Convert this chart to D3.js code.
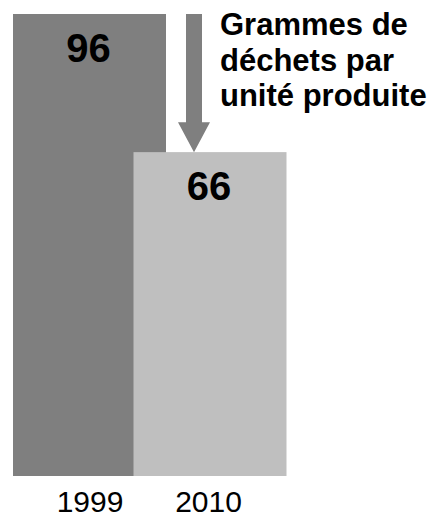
<!DOCTYPE html>
<html>
<head>
<meta charset="utf-8">
<script src="https://cdn.jsdelivr.net/npm/d3@7"></script>
<style>
  html, body { margin: 0; padding: 0; background: #fff; }
  svg { display: block; }
  text { font-family: "Liberation Sans", Arial, sans-serif; }
</style>
</head>
<body>
<svg id="chart" width="437" height="517"></svg>
<script>
const years = ["1999", "2010"];
const values = [96, 66];
const barColors = ["#7f7f7f", "#bfbfbf"];
const titleLines = ["Grammes de", "déchets par", "unité produite"];

const svg = d3.select("#chart");
const plotBottom = 476;

const x = d3.scalePoint().domain(years).range([89.5, 210]);
const barW = 153;
const y = d3.scaleLinear().domain([0, 96]).range([456, 14]);

// bars (second overlaps first)
svg.selectAll("rect.bar")
  .data(years)
  .join("rect")
  .attr("class", "bar")
  .attr("x", d => x(d) - barW / 2)
  .attr("width", barW)
  .attr("y", (d, i) => y(values[i]))
  .attr("height", (d, i) => plotBottom - y(values[i]))
  .attr("fill", (d, i) => barColors[i]);

// value labels
svg.selectAll("text.val")
  .data(years)
  .join("text")
  .attr("class", "val")
  .attr("x", d => x(d) - 1)
  .attr("y", (d, i) => y(values[i]) + 48)
  .attr("text-anchor", "middle")
  .attr("font-size", 40)
  .attr("font-weight", "bold")
  .attr("fill", "#000")
  .text((d, i) => values[i]);

// year labels (axis)
const axis = d3.axisBottom(x).tickSize(0).tickPadding(0);
const gx = svg.append("g").attr("transform", `translate(0, ${plotBottom})`).call(axis);
gx.select(".domain").remove();
gx.selectAll("text")
  .attr("font-size", 30)
  .attr("fill", "#000")
  .attr("dy", null)
  .attr("y", 36)
  .attr("x", (d, i) => i === 0 ? 0 : -2);

// arrow from the 1999 level down to the top of the 2010 bar
const ax = 194;
const yTop = y(values[0]);
const yTip = y(values[1]);
const shaftHalf = 8, headHalf = 16, headH = 30;
const arrowPath = d3.path();
arrowPath.moveTo(ax - shaftHalf, yTop);
arrowPath.lineTo(ax + shaftHalf, yTop);
arrowPath.lineTo(ax + shaftHalf, yTip - headH);
arrowPath.lineTo(ax + headHalf, yTip - headH);
arrowPath.lineTo(ax, yTip);
arrowPath.lineTo(ax - headHalf, yTip - headH);
arrowPath.lineTo(ax - shaftHalf, yTip - headH);
arrowPath.closePath();
svg.append("path").attr("d", arrowPath.toString()).attr("fill", "#7f7f7f");

// title text
svg.append("g").selectAll("text")
  .data(titleLines)
  .join("text")
  .attr("x", 220)
  .attr("y", (d, i) => 35 + i * 35.5)
  .attr("font-size", 31)
  .attr("font-weight", "bold")
  .attr("fill", "#000")
  .text(d => d);
</script>
</body>
</html>
